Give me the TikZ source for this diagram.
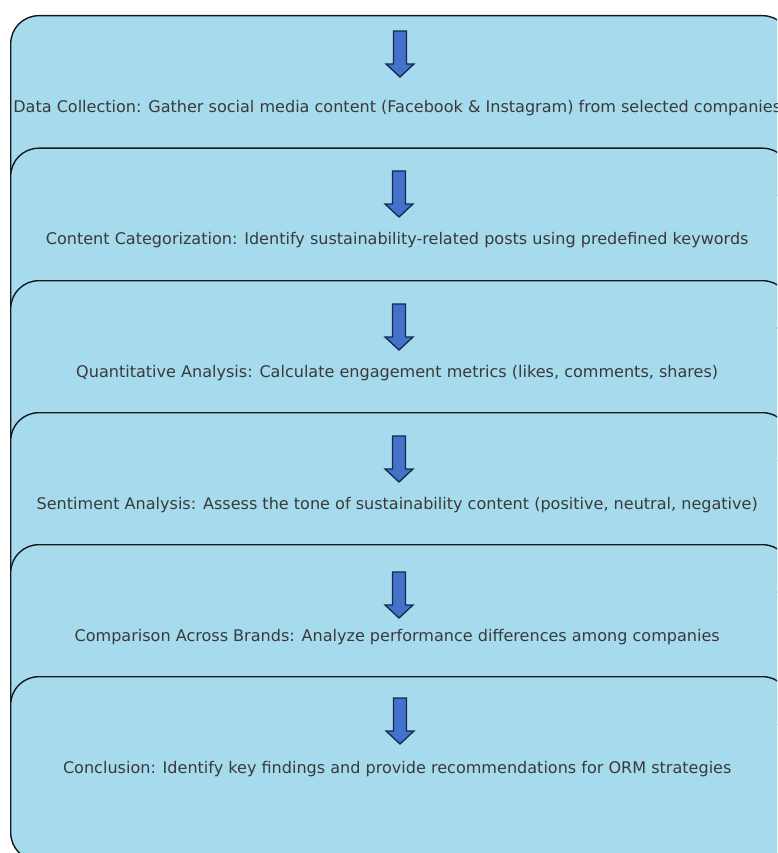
\documentclass[tikz,border=0pt]{standalone}
\usepackage{fontspec}
\setmainfont{DejaVu Sans}
\definecolor{boxfill}{RGB}{166,219,238}
\definecolor{boxline}{RGB}{20,24,30}
\definecolor{arrowfill}{RGB}{68,114,200}
\definecolor{arrowline}{RGB}{22,38,80}
\definecolor{txt}{RGB}{58,58,58}
\begin{document}
\begin{tikzpicture}[x=1pt,y=-1pt,
  stagebox/.style={draw=boxline, line width=1.4pt, fill=boxfill, rounded corners=28pt,
    minimum width=780pt, minimum height=184pt, anchor=north west, inner sep=0pt},
  stagetext/.style={inner sep=0pt, font=\fontsize{16.05}{19}\selectfont, text=txt},
  downarrow/.style={draw=arrowline, line width=1.3pt, fill=arrowfill, line join=miter}]
\useasboundingbox (0,0) rectangle (777,853);
\clip (0,0) rectangle (777,853);
\newcommand\flowarrow[1]{%
  \draw[downarrow] (#1) ++(-6.5,0) -- ++(13,0) -- ++(0,33) -- ++(7.5,0) -- ++(-14,13) -- ++(-14,-13) -- ++(7.5,0) -- cycle;}
\node[stagebox] (s1) at (10,15) {};
\node[stagetext] (t1) at ([xshift=-3.5pt]s1.center) {Data Collection: Gather social media content (Facebook \& Instagram) from selected companies};
\coordinate (a1) at (400,31); \flowarrow{a1}
\node[stagebox] (s2) at (10,147.5) {};
\node[stagetext] (t2) at ([xshift=-3.5pt]s2.center) {Content Categorization: Identify sustainability-related posts using predefined keywords};
\coordinate (a2) at (399,171); \flowarrow{a2}
\node[stagebox] (s3) at (10,280) {};
\node[stagetext] (t3) at ([xshift=-3.5pt]s3.center) {Quantitative Analysis: Calculate engagement metrics (likes, comments, shares)};
\coordinate (a3) at (399,304); \flowarrow{a3}
\node[stagebox] (s4) at (10,412) {};
\node[stagetext] (t4) at ([xshift=-3.5pt]s4.center) {Sentiment Analysis: Assess the tone of sustainability content (positive, neutral, negative)};
\coordinate (a4) at (399,436); \flowarrow{a4}
\node[stagebox] (s5) at (10,544) {};
\node[stagetext] (t5) at ([xshift=-3.5pt]s5.center) {Comparison Across Brands: Analyze performance differences among companies};
\coordinate (a5) at (399,572); \flowarrow{a5}
\node[stagebox] (s6) at (10,676) {};
\node[stagetext] (t6) at ([xshift=-3.5pt]s6.center) {Conclusion: Identify key findings and provide recommendations for ORM strategies};
\coordinate (a6) at (400,698); \flowarrow{a6}
\end{tikzpicture}
\end{document}
